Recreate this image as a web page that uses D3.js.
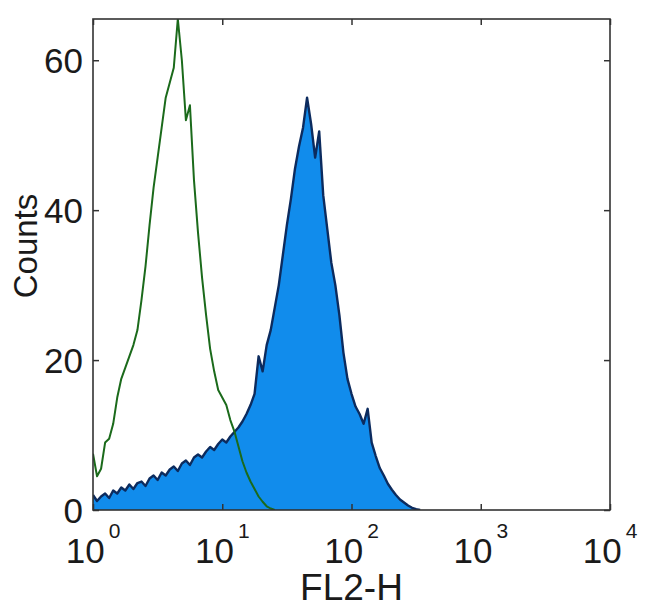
<!DOCTYPE html>
<html>
<head>
<meta charset="utf-8">
<script src="https://cdn.jsdelivr.net/npm/d3@7/dist/d3.min.js"></script>
<style>
  body { margin: 0; background: #fff; }
  text { font-family: "Liberation Sans", Arial, Helvetica, sans-serif; fill: #1a1a1a; }
</style>
</head>
<body>
<div id="chart"></div>
<script>
// histogram channels: point i sits at 10^(i*binStep)
var binStep = 1 / 32;

// isotype control (green outline)
var greenCounts = [
  7.5, 4.5, 5.5, 9, 9.5, 11.5, 15, 17.5, 19, 20.5,
  22, 24, 28, 32.5, 38, 43, 47, 51, 55, 57,
  59, 65.5, 60, 52, 54, 44, 37, 31, 26, 21.5,
  18.5, 16, 15, 14, 12, 10.5, 8.5, 6.5, 5, 3.8,
  2.8, 1.8, 1.1, 0.5, 0.2, 0
];

// stained sample (blue filled)
var blueCounts = [
  2.0, 1.2, 1.8, 2.2, 1.6, 2.6, 2.2, 3.0, 2.6, 3.4,
  2.8, 3.6, 3.8, 3.2, 4.2, 4.6, 4.0, 5.0, 4.6, 5.4,
  5.8, 5.2, 6.2, 6.6, 6.0, 7.0, 7.4, 7.0, 7.8, 8.4,
  8.0, 8.8, 9.4, 9.0, 9.8, 10.4, 11.0, 11.8, 12.8, 14.0,
  15.5, 20.5, 18.5, 22, 24, 27, 30, 34, 38, 41.5,
  45.5, 48.5, 51, 55, 51.5, 47, 50.5, 42, 37.5, 33,
  30, 26, 21, 17.5, 15.5, 13.8, 12.8, 11.5, 13.5, 9,
  7.2, 5.6, 4.6, 3.5, 2.7, 2.0, 1.4, 1.0, 0.6, 0.3,
  0.1, 0
];

var xTicks = [1, 10, 100, 1000, 10000];
var xExponents = ["0", "1", "2", "3", "4"];
var yTicks = [0, 20, 40, 60];

var width = 650, height = 615;
var plotLeft = 93, plotRight = 610, plotTop = 19, plotBottom = 510;

var svg = d3.select("#chart").append("svg")
    .attr("width", width)
    .attr("height", height);

var x = d3.scaleLog().domain([1, 10000]).range([plotLeft, plotRight]);
var y = d3.scaleLinear().domain([0, 65.5]).range([plotBottom, plotTop]);

function toPoints(counts) {
    return counts.map(function(c, i) { return { v: Math.pow(10, i * binStep), c: c }; });
}

svg.append("clipPath").attr("id", "plot-clip")
  .append("rect")
    .attr("x", plotLeft).attr("y", plotTop)
    .attr("width", plotRight - plotLeft).attr("height", plotBottom - plotTop);

var plot = svg.append("g").attr("clip-path", "url(#plot-clip)");

var area = d3.area()
    .x(function(d) { return x(d.v); })
    .y0(y(0))
    .y1(function(d) { return y(d.c); });

var line = d3.line()
    .x(function(d) { return x(d.v); })
    .y(function(d) { return y(d.c); });

var bluePts = toPoints(blueCounts);
plot.append("path")
    .datum(bluePts)
    .attr("d", area)
    .attr("fill", "#118cec")
    .attr("stroke", "none");
plot.append("path")
    .datum(bluePts)
    .attr("d", line)
    .attr("fill", "none")
    .attr("stroke", "#0c2b5e")
    .attr("stroke-width", 2.4)
    .attr("stroke-linejoin", "round");

plot.append("path")
    .datum(toPoints(greenCounts))
    .attr("d", line)
    .attr("fill", "none")
    .attr("stroke", "#1b6a1b")
    .attr("stroke-width", 2)
    .attr("stroke-linejoin", "round");

// axes, ticks pointing inward on all four sides
var tickLen = 6;
function styleAxis(g) {
    g.select(".domain").remove();
    g.selectAll(".tick line").attr("stroke", "#333").attr("stroke-width", 1.5);
}

svg.append("g")
    .attr("transform", "translate(0," + plotBottom + ")")
    .call(d3.axisBottom(x).tickValues(xTicks).tickSize(-tickLen).tickFormat(function() { return ""; }))
    .call(styleAxis);
svg.append("g")
    .attr("transform", "translate(0," + plotTop + ")")
    .call(d3.axisTop(x).tickValues(xTicks).tickSize(-tickLen).tickFormat(function() { return ""; }))
    .call(styleAxis);
svg.append("g")
    .attr("transform", "translate(" + plotLeft + ",0)")
    .call(d3.axisLeft(y).tickValues(yTicks).tickSize(-tickLen).tickFormat(function() { return ""; }))
    .call(styleAxis);
svg.append("g")
    .attr("transform", "translate(" + plotRight + ",0)")
    .call(d3.axisRight(y).tickValues(yTicks).tickSize(-tickLen).tickFormat(function() { return ""; }))
    .call(styleAxis);

svg.append("rect")
    .attr("x", plotLeft).attr("y", plotTop)
    .attr("width", plotRight - plotLeft).attr("height", plotBottom - plotTop)
    .attr("fill", "none")
    .attr("stroke", "#333")
    .attr("stroke-width", 1.6);

// y tick labels
svg.selectAll(".ylab")
    .data(yTicks)
  .enter().append("text")
    .attr("class", "ylab")
    .attr("x", plotLeft - 10)
    .attr("y", function(d) { return y(d); })
    .attr("dy", "0.36em")
    .attr("text-anchor", "end")
    .style("font-size", "35px")
    .text(function(d) { return d; });

// x tick labels as 10^n
var xl = svg.selectAll(".xlab")
    .data(xTicks)
  .enter().append("text")
    .attr("class", "xlab")
    .attr("x", function(d) { return x(d); })
    .attr("y", 563)
    .attr("text-anchor", "middle")
    .style("font-size", "35px");
xl.append("tspan").text("10");
xl.append("tspan")
    .attr("dx", 4)
    .attr("dy", -25)
    .style("font-size", "21px")
    .text(function(d, i) { return xExponents[i]; });

// axis titles
svg.append("text")
    .attr("x", (plotLeft + plotRight) / 2)
    .attr("y", 600)
    .attr("text-anchor", "middle")
    .style("font-size", "37px")
    .text("FL2-H");

svg.append("text")
    .attr("transform", "translate(37,246) rotate(-90)")
    .attr("text-anchor", "middle")
    .style("font-size", "33px")
    .text("Counts");
</script>
</body>
</html>
